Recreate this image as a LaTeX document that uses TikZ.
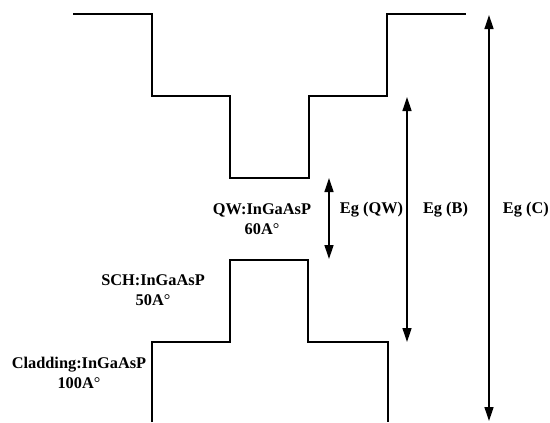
\documentclass[tikz,border=0pt]{standalone}
\usepackage{fontspec}
\setmainfont{Liberation Serif}
\usetikzlibrary{arrows.meta}
\begin{document}
\begin{tikzpicture}[x=1bp,y=-1bp,
  band/.style={line width=1.3bp, line join=miter},
  egarrow/.style={line width=1.3bp, {Triangle[length=14bp,width=9bp]}-{Triangle[length=14bp,width=9bp]}},
  lbl/.style={font=\fontsize{16.4}{19.5}\selectfont\bfseries, align=center, inner sep=0pt}]
\useasboundingbox (0,0) rectangle (550,422);
% conduction band
\draw[band] (73,14) -- (152,14) -- (152,96) -- (230,96) -- (230,178) -- (309,178) -- (309,96) -- (387,96) -- (387,14) -- (466,14);
% valence band
\draw[band] (152,422) -- (152,342) -- (230,342) -- (230,260) -- (308,260) -- (308,342) -- (388,342) -- (388,422);
% arrows
\coordinate (qwt) at (329,178);
\coordinate (qwb) at (329,259);
\coordinate (bt) at (407,97);
\coordinate (bb) at (407,342);
\coordinate (ct) at (489,15);
\coordinate (cb) at (489,421);
\draw[egarrow] (qwt) -- (qwb);
\draw[egarrow] (bt) -- (bb);
\draw[egarrow] (ct) -- (cb);
% labels
\node[lbl] (qw) at (262,219) {QW:InGaAsP\\60A{\mdseries°}};
\node[lbl] (sch) at (153,290) {SCH:InGaAsP\\50A{\mdseries°}};
\node[lbl] (clad) at (79,373) {Cladding:InGaAsP\\100A{\mdseries°}};
\node[lbl] (egqw) at (371.5,210) {Eg (QW)};
\node[lbl] (egb) at (445.5,210) {Eg (B)};
\node[lbl,anchor=east] (egc) at (549,210) {Eg (C)};
\end{tikzpicture}
\end{document}
